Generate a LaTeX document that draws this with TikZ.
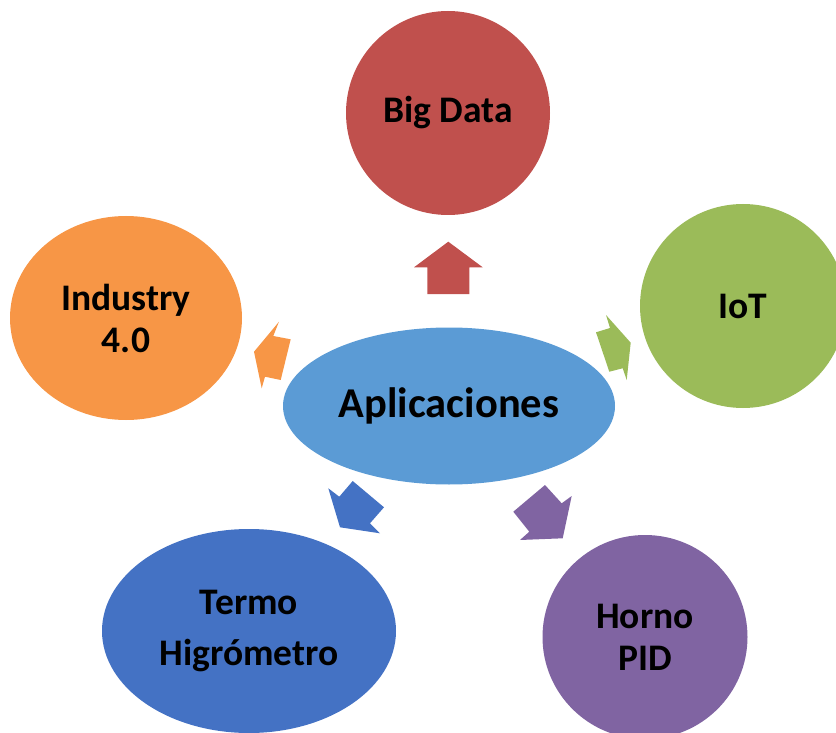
\documentclass[tikz,border=0pt]{standalone}
\usepackage{fontspec}
\setmainfont{Carlito}
\usetikzlibrary{shapes.geometric}
\definecolor{bigRed}{HTML}{C0504D}
\definecolor{indOrange}{HTML}{F79646}
\definecolor{iotGreen}{HTML}{9BBB59}
\definecolor{appBlue}{HTML}{5B9BD5}
\definecolor{termoBlue}{HTML}{4472C4}
\definecolor{hornoPurple}{HTML}{8064A2}
\tikzset{bubble/.style={ellipse,inner sep=0pt,align=center,
    font=\bfseries\fontsize{37.5}{42}\selectfont}}

\begin{document}
\begin{tikzpicture}[x=1pt,y=-1pt]
      \useasboundingbox (0,0) rectangle (836,733);
      \clip (0,0) rectangle (836,733);
      % outer topics
      \node[bubble,fill=bigRed,minimum width=204pt,minimum height=204pt] (bigdata) at (448,113) {Big Data};
      \node[bubble,fill=indOrange,minimum width=232pt,minimum height=204pt] (industry) at (126,318) {Industry\\4.0};
      \node[bubble,fill=iotGreen,minimum width=206pt,minimum height=204pt] (iot) at (743,306) {IoT};
      \node[bubble,fill=termoBlue,minimum width=294pt,minimum height=204pt] (termo) at (249,631) {Termo\\[9pt]Higrómetro};
      \node[bubble,fill=hornoPurple,minimum width=205pt,minimum height=204pt] (horno) at (645,637) {Horno\\PID};
      % centre
      \node[bubble,fill=appBlue,minimum width=332pt,minimum height=157pt,
            font=\bfseries\fontsize{42.5}{48}\selectfont] (apps) at (449,406) {Aplicaciones};
      % block arrows
      \fill[bigRed] (448.3,241.7) -- (482.7,267.3) -- (469.3,267.3) -- (469.3,294)
            -- (427.3,294) -- (427.3,267.3) -- (414,267.3) -- cycle;
      \fill[indOrange] (254,351.7) -- (279,321.7) -- (273.3,336) -- (290.7,339.3)
            -- (280.7,380) -- (265,376.7) -- (261.7,388.3) -- cycle;
      \fill[iotGreen] (630.7,342.7) -- (606,315) -- (610,328) -- (596,332.3)
            -- (609.3,371.7) -- (622.7,368.3) -- (626.7,380) -- cycle;
      \fill[termoBlue] (340,527.3) -- (328.3,488.3) -- (339.3,496.7) -- (352.7,481)
            -- (384,507.3) -- (370,523.3) -- (380,533.3) -- cycle;
      \fill[hornoPurple] (562.7,538.3) -- (571.7,496) -- (561.7,503.3) -- (545,485)
            -- (513.3,511.7) -- (529.3,531.7) -- (520,540) -- cycle;
\end{tikzpicture}
\end{document}
